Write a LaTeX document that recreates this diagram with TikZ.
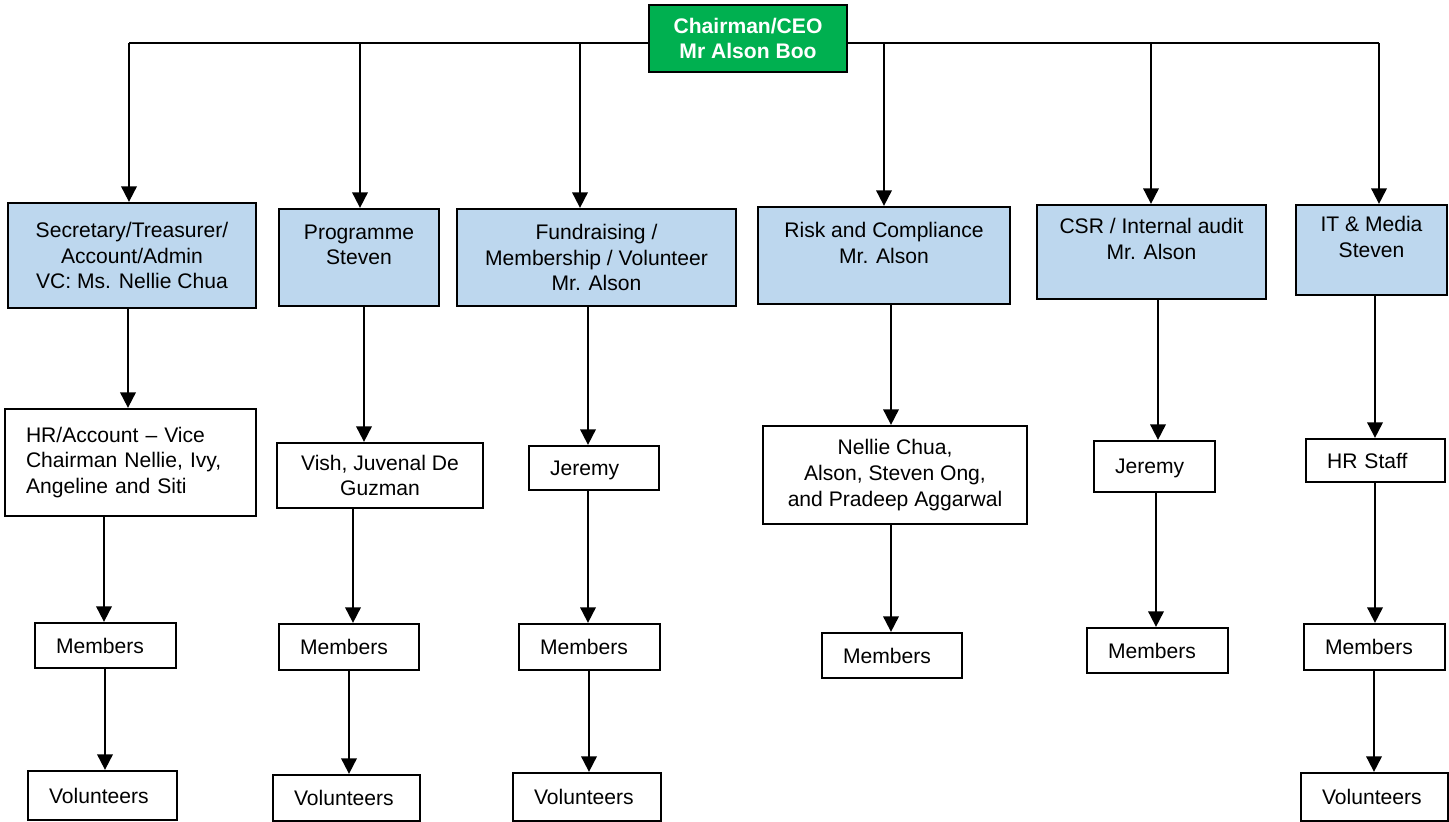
\documentclass[tikz,border=0pt]{standalone}
\usepackage{fontspec}
\setmainfont{Liberation Sans}
\usetikzlibrary{arrows.meta}

\definecolor{deptblue}{HTML}{BDD7EE}
\definecolor{ceogreen}{HTML}{00B050}

\tikzset{
  dept/.style={draw, line width=1.3pt, fill=deptblue, align=center},
  staff/.style={draw, line width=1.3pt, fill=white, inner xsep=0.42cm},
  tag/.style={staff, align=left, text depth=0pt},
  arr/.style={-{Triangle[width=0.31cm,length=0.31cm]}, line width=1.1pt},
}

\begin{document}
\begin{tikzpicture}[x=0.02cm, y=-0.02cm, font=\fontsize{12}{14.6}\selectfont]

    \useasboundingbox (0,0) rectangle (1449,821);

    % Chairman at the top
    \node[draw, line width=1.3pt, fill=ceogreen, text=white, align=center,
          font=\fontsize{12}{13.7}\selectfont\bfseries,
          minimum width=3.96cm, minimum height=1.34cm] (ceo) at (748,38.5)
          {Chairman/CEO\\Mr Alson Boo};

    % Department row
    \node[dept, minimum width=4.96cm, minimum height=2.10cm] (sec) at (132,255.5) {Secretary/Treasurer/\\Account/Admin\\VC: Ms. Nellie Chua};
    \node[dept, minimum width=3.20cm, minimum height=1.94cm] (prog) at (359,257.5) {Programme\\Steven\\\mbox{}};
    \node[dept, minimum width=5.58cm, minimum height=1.94cm] (fund) at (596.5,257.5) {Fundraising /\\Membership / Volunteer\\Mr. Alson};
    \node[dept, minimum width=5.04cm, minimum height=1.94cm] (risk) at (884,255.5) {Risk and Compliance\\Mr. Alson\\\mbox{}};
    \node[dept, minimum width=4.58cm, minimum height=1.88cm] (csr) at (1151.5,252) {CSR / Internal audit\\Mr. Alson\\\mbox{}};
    \node[dept, minimum width=3.02cm, minimum height=1.80cm] (it) at (1371.5,250) {IT \& Media\\Steven\\\mbox{}};

    % People in charge
    \node[staff, align=left, text width=4.18cm, minimum height=2.14cm] (hr) at (130.5,462.5)
          {HR/Account – Vice\\Chairman Nellie, Ivy,\\Angeline and Siti};
    \node[staff, align=center, minimum width=4.12cm, minimum height=1.30cm] (vish) at (380,475.5) {Vish, Juvenal De\\Guzman};
    \node[tag, text width=1.76cm, minimum height=0.88cm] (jerA) at (594,468) {Jeremy};
    \node[staff, align=center, minimum width=5.28cm, minimum height=1.96cm] (nel) at (895,475) {Nellie Chua,\\Alson, Steven Ong,\\and Pradeep Aggarwal};
    \node[tag, text width=1.58cm, minimum height=1.02cm] (jerB) at (1154.5,466.5) {Jeremy};
    \node[tag, text width=1.94cm, minimum height=0.86cm] (hrs) at (1375.5,460.5) {HR Staff};

    % Members
    \node[tag, text width=1.98cm, minimum height=0.90cm] (memA) at (105.5,645.5) {Members};
    \node[tag, text width=1.96cm, minimum height=0.92cm] (memB) at (349,647) {Members};
    \node[tag, text width=1.98cm, minimum height=0.92cm] (memC) at (589.5,647) {Members};
    \node[tag, text width=1.96cm, minimum height=0.90cm] (memD) at (892,655.5) {Members};
    \node[tag, text width=1.98cm, minimum height=0.90cm] (memE) at (1157.5,650.5) {Members};
    \node[tag, text width=1.98cm, minimum height=0.92cm] (memF) at (1374.5,647) {Members};

    % Volunteers
    \node[tag, text width=2.14cm, minimum height=0.98cm] (volA) at (102.5,795.5) {Volunteers};
    \node[tag, text width=2.10cm, minimum height=0.92cm] (volB) at (346.5,798) {Volunteers};
    \node[tag, text width=2.12cm, minimum height=0.96cm] (volC) at (587,797) {Volunteers};
    \node[tag, text width=2.10cm, minimum height=0.96cm] (volF) at (1374.5,797) {Volunteers};

    % Bus line from the chairman
    \coordinate (busL) at (129,43);
    \coordinate (busR) at (1379,43);
    \draw[line width=1.1pt] (ceo.west |- busL) -- (busL);
    \draw[line width=1.1pt] (ceo.east |- busR) -- (busR);
    \foreach \x/\dst in {129/sec, 360/prog, 580/fund, 884/risk, 1151/csr, 1379/it}
      \draw[arr] (\x,0 |- busL) -- (\x,0 |- \dst.north);

    % Arrows down each column
    \foreach \x/\src/\dst in {128/sec/hr, 104/hr/memA, 105/memA/volA,
        364/prog/vish, 353/vish/memB, 349/memB/volB,
        588/fund/jerA, 588/jerA/memC, 589/memC/volC,
        891/risk/nel, 891/nel/memD,
        1158/csr/jerB, 1156/jerB/memE,
        1375/it/hrs, 1375/hrs/memF, 1374/memF/volF}
      \draw[arr] (\x,0 |- \src.south) -- (\x,0 |- \dst.north);

\end{tikzpicture}
\end{document}
